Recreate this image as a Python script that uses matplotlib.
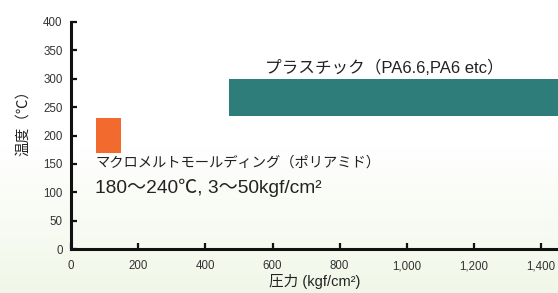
import numpy as np
import matplotlib.pyplot as plt
from matplotlib.colors import LinearSegmentedColormap

plt.rcParams['font.family'] = ['Liberation Sans', 'Noto Sans CJK JP', 'DejaVu Sans']

# 圧力 (kgf/cm2) と 温度 (℃) の範囲
names = ['マクロメルト', 'プラスチック']
p_start = [75, 470]
p_width = [75, 1000]
t_low = [170, 235]
t_high = [230, 300]
colors = ['#F26A2E', '#2E7D7A']

xticks = [0, 200, 400, 600, 800, 1000, 1200, 1400]
xticklabels = ['0', '200', '400', '600', '800', '1,000', '1,200', '1,400']
yticks = [0, 50, 100, 150, 200, 250, 300, 350, 400]

fig = plt.figure(figsize=(5.58, 2.93), dpi=100)

# 背景のグラデーション (上:白 -> 下:薄い緑)
bg = fig.add_axes([0, 0, 1, 1], zorder=-10)
grad = np.linspace(0, 1, 256).reshape(-1, 1)
cmap = LinearSegmentedColormap.from_list('bg', ['#FFFFFF', '#FFFFFF', '#F1F7E8'])
bg.imshow(grad, aspect='auto', cmap=cmap, extent=[0, 1, 0, 1], origin='upper')
bg.axis('off')

ax = fig.add_axes([0.1272, 0.150, 0.8728, 0.775])
ax.patch.set_alpha(0)

for i in range(len(names)):
    ax.broken_barh([(p_start[i], p_width[i])], (t_low[i], t_high[i] - t_low[i]),
                   facecolors=colors[i])

ax.set_xlim(0, 1450)
ax.set_ylim(0, 400)
ax.set_xticks(xticks)
ax.set_xticklabels(xticklabels)
ax.set_yticks(yticks)
ax.tick_params(direction='in', length=4, width=1.6, labelsize=8.3, colors='#111111')
ax.tick_params(axis='x', labelcolor='#333333', pad=8)
ax.tick_params(axis='y', labelcolor='#333333', pad=6)
for s in ['top', 'right']:
    ax.spines[s].set_visible(False)
for s in ['left', 'bottom']:
    ax.spines[s].set_linewidth(2.2)
    ax.spines[s].set_color('#111111')

ax.text(578, 319, 'プラスチック（PA6.6,PA6 etc）', fontsize=12, color='#222222',
        va='center')
ax.text(72, 153, 'マクロメルトモールディング（ポリアミド）', fontsize=10.3,
        color='#222222', va='center')
ax.text(72, 107, '180〜240℃, 3〜50kgf/cm²', fontsize=13.8, color='#222222',
        va='center')

ax.set_xlabel('圧力 (kgf/cm²)', fontsize=10.5, color='#222222', labelpad=1.5)
ax.set_ylabel('温度（℃）', fontsize=10.5, color='#222222')
ax.yaxis.set_label_coords(-0.084, 0.57)

fig.savefig('out.png', dpi=100)
